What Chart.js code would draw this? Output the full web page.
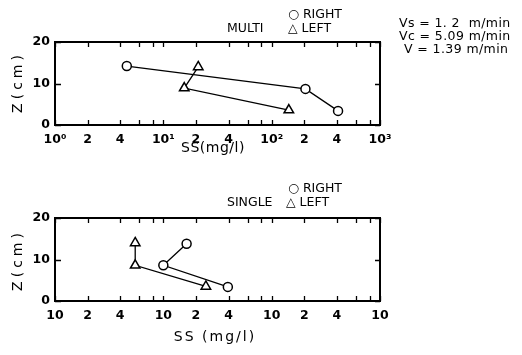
<!DOCTYPE html>
<html>
<head>
<meta charset="utf-8">
<script src="https://cdn.jsdelivr.net/npm/chart.js@4.4.1/dist/chart.umd.min.js"></script>
<style>
body { margin: 0; background: #fff; width: 522px; height: 355px; overflow: hidden; position: relative; }
canvas { position: absolute; left: 0; }
#chartMulti { top: 0; }
#chartSingle { top: 175px; }
</style>
</head>
<body>
<canvas id="chartMulti" width="522" height="175"></canvas>
<canvas id="chartSingle" width="522" height="180"></canvas>
<script>
// depth Z (cm) and suspended solids SS (mg/l)
var zRightMulti = [14.2, 8.7, 3.4];
var ssRightMulti = [4.6, 205, 410];
var zLeftMulti = [14, 8.9, 3.6];
var ssLeftMulti = [21, 15.6, 144];

var zRightSingle = [13.8, 8.6, 3.4];
var ssRightSingle = [16.4, 10, 39.4];
var zLeftSingle = [14, 8.6, 3.5];
var ssLeftSingle = [5.5, 5.5, 24.7];

var ssTicks = [1, 2, 4, 6, 8, 10, 20, 40, 60, 80, 100, 200, 400, 600, 800, 1000];
var multiTickLabels = ['10\u2070', '2', '4', '', '', '10\u00b9', '2', '4', '', '', '10\u00b2', '2', '4', '', '', '10\u00b3'];
var singleTickLabels = ['10', '2', '4', '', '', '10', '2', '4', '', '', '10', '2', '4', '', '', '10'];
var zTicks = [0, 10, 20];

function pts(xs, ys) {
    return xs.map(function (x, i) { return { x: x, y: ys[i] }; });
}

var framePlugin = {
    id: 'frame',
    beforeDatasetsDraw: function (chart, args, opts) {
        var c = chart.ctx, a = chart.chartArea;
        var xs = chart.scales.x, ys = chart.scales.y;
        c.save();
        c.strokeStyle = '#000';
        c.lineWidth = 1.3;
        c.beginPath();
        xs.ticks.forEach(function (t) {
            var px = Math.round(xs.getPixelForValue(t.value)) + 0.5;
            c.moveTo(px, a.bottom); c.lineTo(px, a.bottom - 5);
            c.moveTo(px, a.top); c.lineTo(px, a.top + 5);
        });
        ys.ticks.forEach(function (t) {
            var py = Math.round(ys.getPixelForValue(t.value)) + 0.5;
            c.moveTo(a.left, py); c.lineTo(a.left + 6, py);
            c.moveTo(a.right, py); c.lineTo(a.right - 5, py);
        });
        c.stroke();
        c.lineWidth = 2;
        c.strokeRect(a.left, a.top, a.right - a.left, a.bottom - a.top);
        c.restore();
    },
    afterDraw: function (chart, args, opts) {
        var c = chart.ctx;
        c.save();
        c.fillStyle = '#000';
        c.textBaseline = 'middle';
        (opts.texts || []).forEach(function (t) {
            c.font = (t.font || '12.5px "DejaVu Sans"');
            c.letterSpacing = t.spacing || '0px';
            c.textAlign = t.align || 'left';
            if (t.rotate) {
                c.save();
                c.translate(t.x, t.y);
                c.rotate(-Math.PI / 2);
                c.textAlign = 'center';
                c.fillText(t.text, 0, 0);
                c.restore();
            } else {
                c.fillText(t.text, t.x, t.y);
            }
        });
        c.restore();
    }
};

function makeChart(id, right, left, labels, padTop, texts) {
    var ctx = document.getElementById(id).getContext('2d');
    var h = document.getElementById(id).height;
    return new Chart(ctx, {
        type: 'scatter',
        data: {
            datasets: [{
                label: 'RIGHT',
                data: right,
                showLine: true,
                borderColor: '#000',
                borderWidth: 1.3,
                pointStyle: 'circle',
                pointRadius: 4.5,
                pointBorderWidth: 1.5,
                pointBackgroundColor: '#fff',
                pointBorderColor: '#000'
            }, {
                label: 'LEFT',
                data: left,
                showLine: true,
                borderColor: '#000',
                borderWidth: 1.3,
                pointStyle: 'triangle',
                pointRadius: 5.5,
                pointBorderWidth: 1.5,
                pointBackgroundColor: '#fff',
                pointBorderColor: '#000'
            }]
        },
        options: {
            responsive: false,
            animation: false,
            layout: { padding: { left: 0, right: 142, top: padTop, bottom: 0 } },
            plugins: {
                legend: { display: false },
                tooltip: { enabled: false },
                frame: { texts: texts }
            },
            scales: {
                x: {
                    type: 'logarithmic',
                    min: 1,
                    max: 1000,
                    afterBuildTicks: function (scale) {
                        scale.ticks = ssTicks.map(function (v) { return { value: v }; });
                    },
                    afterFit: function (scale) { scale.height = h - padTop - 83; },
                    grid: { display: false, drawTicks: false },
                    border: { display: false },
                    ticks: {
                        autoSkip: false,
                        maxRotation: 0,
                        padding: 7,
                        color: '#000',
                        font: { family: 'DejaVu Sans', size: 12.5, weight: 'bold' },
                        callback: function (v, i) { return labels[i]; }
                    }
                },
                y: {
                    min: 0,
                    max: 20,
                    afterBuildTicks: function (scale) {
                        scale.ticks = zTicks.map(function (v) { return { value: v }; });
                    },
                    afterFit: function (scale) { scale.width = 55; },
                    grid: { display: false, drawTicks: false },
                    border: { display: false },
                    ticks: {
                        padding: 5,
                        color: '#000',
                        font: { family: 'DejaVu Sans', size: 12.5, weight: 'bold' }
                    }
                }
            }
        },
        plugins: [framePlugin]
    });
}

var chartMulti = makeChart('chartMulti', pts(ssRightMulti, zRightMulti), pts(ssLeftMulti, zLeftMulti), multiTickLabels, 42, [
    { text: 'MULTI', x: 227, y: 29 },
    { text: '\u25cb RIGHT', x: 288, y: 15 },
    { text: '\u25b3 LEFT', x: 288, y: 29 },
    { text: 'Vs = 1. 2  m/min', x: 399, y: 24, spacing: '0.4px' },
    { text: 'Vc = 5.09 m/min', x: 399, y: 37, spacing: '0.4px' },
    { text: 'V = 1.39 m/min', x: 404, y: 50, spacing: '0.4px' },
    { text: 'SS(mg/l)', x: 213, y: 148, align: 'center', font: '14px "DejaVu Sans"', spacing: '0.5px' },
    { text: 'Z(cm)', x: 18, y: 82, rotate: true, font: '14px "DejaVu Sans"', spacing: '4px' }
]);

var chartSingle = makeChart('chartSingle', pts(ssRightSingle, zRightSingle), pts(ssLeftSingle, zLeftSingle), singleTickLabels, 43, [
    { text: '\u25cb RIGHT', x: 288, y: 14 },
    { text: 'SINGLE', x: 227, y: 28 },
    { text: '\u25b3 LEFT', x: 286, y: 28 },
    { text: 'SS (mg/l)', x: 215, y: 162, align: 'center', font: '14px "DejaVu Sans"', spacing: '2px' },
    { text: 'Z(cm)', x: 18, y: 85, rotate: true, font: '14px "DejaVu Sans"', spacing: '4px' }
]);
</script>
</body>
</html>
